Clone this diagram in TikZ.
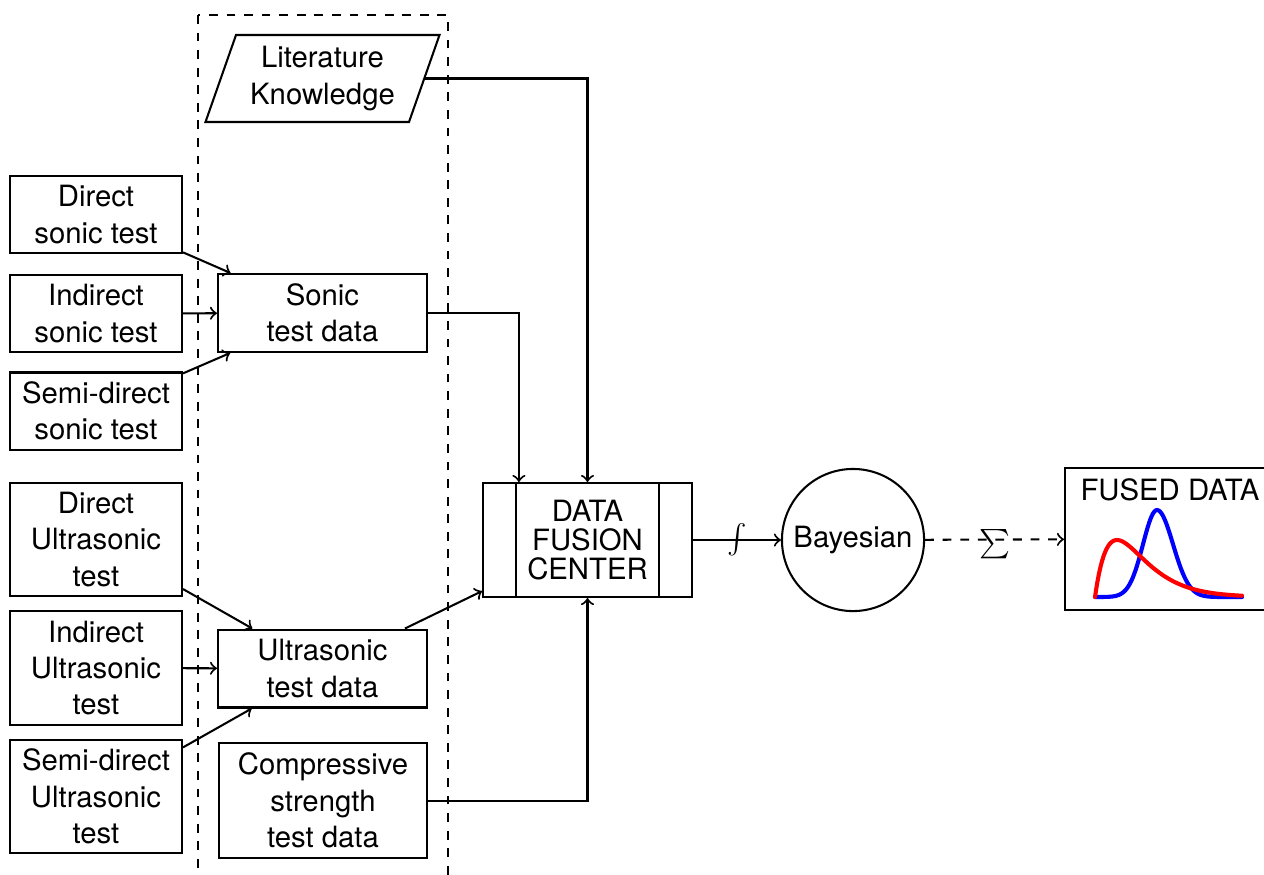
\documentclass[tikz,border=0pt]{standalone}
\usepackage{fontspec}
\setmainfont{TeX Gyre Heros}
\usetikzlibrary{shapes.geometric}
\begin{document}
\begin{tikzpicture}[x=0.3413pt,y=-0.3413pt,
  line width=0.7pt, >=to,
  base/.style={draw, align=center, inner sep=2pt, font=\fontsize{10}{12.4}\selectfont},
  testbox/.style={base, minimum width=58.7pt},
  twoline/.style={testbox, minimum height=26.3pt},
  threeline/.style={testbox, minimum height=38.6pt},
  databox/.style={base, minimum width=71.3pt, minimum height=26.6pt},
  litbox/.style={base, trapezium, trapezium left angle=70, trapezium right angle=110,
     trapezium stretches=true, minimum width=80.2pt, minimum height=29.7pt},
  centerbox/.style={base, minimum width=71.3pt, minimum height=38.9pt, font=\fontsize{10}{10}\selectfont},
  roundbox/.style={base, circle, minimum size=48.5pt},
  arr/.style={->}
]
\useasboundingbox (0,0) rectangle (1264,874);
\clip (0,0) rectangle (1264,874);

% dashed group
\draw[dashed] (198,15) rectangle (448,900);

% left column
\node[twoline] (ds) at (96,214.5) {Direct\\sonic test};
\node[twoline] (is) at (96,313.5) {Indirect\\sonic test};
\node[twoline] (ss) at (96,411) {Semi-direct\\sonic test};
\node[threeline] (du) at (96,539.5) {Direct\\Ultrasonic\\test};
\node[threeline] (iu) at (96,668) {Indirect\\Ultrasonic\\test};
\node[threeline] (su) at (96,796.5) {Semi-direct\\Ultrasonic\\test};

% middle column
\node[litbox] (lit) at (322.5,78.5) {Literature\\Knowledge};
\node[databox] (sonic) at (322.5,313) {Sonic\\test data};
\node[databox] (ultra) at (322.5,668.5) {Ultrasonic\\test data};
\node[databox, minimum height=39.2pt] (comp) at (323,800.5) {Compressive\\strength\\test data};

% fusion center
\node[centerbox] (dfc) at (587.5,540) {DATA\\FUSION\\CENTER};
\draw ([xshift=11.6pt]dfc.north west) -- ([xshift=11.6pt]dfc.south west);
\draw ([xshift=-11.6pt]dfc.north east) -- ([xshift=-11.6pt]dfc.south east);

\node[roundbox] (bayes) at (853,540) {Bayesian};

% fused data
\node[draw, minimum width=71pt, minimum height=48.5pt] (fused) at (1169,539) {};
\node[font=\fontsize{10}{12}\selectfont, inner sep=0pt] (fusedlabel) at (1170,490) {FUSED DATA};
\draw[blue, line width=1.4pt, line join=round, line cap=round]
  plot[domain=0:62, samples=50] ({1095+\x},{597-87*exp(-((\x-62)*(\x-62))/392)})
  -- plot[domain=62:147, samples=60] ({1095+\x},{597-87*exp(-((\x-62)*(\x-62))/512)});
\draw[red, line width=1.4pt, line join=round, line cap=round]
  plot[domain=0:147, samples=120] ({1095+\x},{597-57*(\x/22)*exp(1-\x/22)});

% connectors
\draw[arr] (ds) -- (sonic);
\draw[arr] (is) -- (sonic);
\draw[arr] (ss) -- (sonic);
\draw[arr] (du) -- (ultra);
\draw[arr] (iu) -- (ultra);
\draw[arr] (su) -- (ultra);
\draw[arr] (ultra) -- (dfc);
\draw[arr] (sonic.east) -| ([xshift=12.6pt]dfc.north west);
\draw[arr] (lit) -| (dfc);
\draw[arr] (comp) -| (dfc);
\draw[arr] (dfc) -- node[midway, inner sep=0pt, font=\fontsize{11}{13}\selectfont] {$\int$} (bayes);
\draw[arr, dashed] (bayes) -- node[midway, inner sep=0pt, yshift=-1.5pt, font=\fontsize{12.5}{15}\selectfont] {$\sum$} (fused);
\end{tikzpicture}
\end{document}
